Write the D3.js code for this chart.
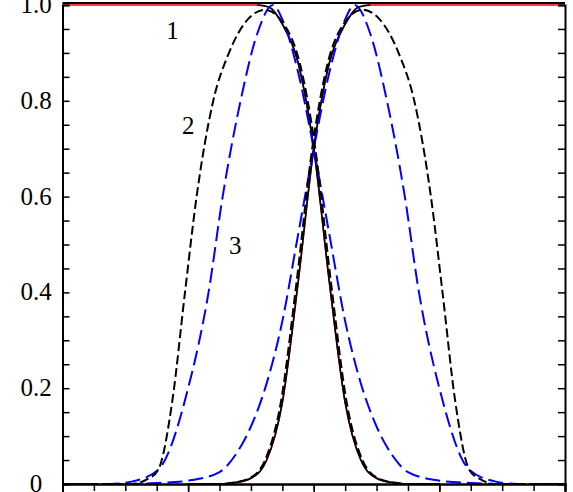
<!DOCTYPE html>
<html>
<head>
<meta charset="utf-8">
<script src="https://cdn.jsdelivr.net/npm/d3@7"></script>
<style>
  body { margin: 0; background: #fff; }
  text { font-family: "Liberation Serif", serif; }
</style>
</head>
<body>
<svg id="chart" width="573" height="492"></svg>
<script>
"use strict"

// descending halves of each curve (x, y); the other bump is the mirror x -> 16 - x
const solidX = [6.2, 6.6, 7.0, 7.5, 8.0, 8.5, 9.0, 9.5, 10.0, 10.5, 11.0, 12.0]
const solidY = [1.0, 0.995, 0.96, 0.88, 0.70, 0.42, 0.17, 0.05, 0.012, 0.003, 0.0, 0.0]

const dashRiseX = [0.0, 2.2, 2.7, 3.05, 3.5, 3.9, 4.27, 4.8, 5.3, 5.9, 6.45]
const dashRiseY = [0.0, 0.0, 0.01, 0.03, 0.175, 0.4, 0.6, 0.8, 0.9, 0.97, 0.99]

const blueRiseX = [0.0, 1.5, 2.2, 3.05, 4.0, 4.65, 5.1, 5.67, 6.2, 6.7]
const blueRiseY = [0.0, 0.0, 0.005, 0.03, 0.2, 0.4, 0.6, 0.8, 0.94, 1.0]
const blueFallX = [7.0, 7.5, 8.0, 8.5, 9.0, 9.5, 10.0, 10.5, 11.0, 12.0, 13.0, 14.0, 16.0]
const blueFallY = [0.97, 0.86, 0.70, 0.52, 0.34, 0.21, 0.12, 0.06, 0.025, 0.007, 0.002, 0.0, 0.0]

const yTicks = [0, 0.2, 0.4, 0.6, 0.8, 1.0]
const yTickLabels = ["0", "0.2", "0.4", "0.6", "0.8", "1.0"]
const curveLabels = ["1", "2", "3"]
const labelPos = [[3.5, 0.93], [4.0, 0.73], [5.5, 0.48]]

const svg = d3.select("#chart")
const x = d3.scaleLinear().domain([0, 16]).range([62.5, 565])
const y = d3.scaleLinear().domain([0, 1]).range([484, 5])

const zip = (xs, ys) => xs.map((v, i) => [v, ys[i]])
const mirror = pts => pts.map(([a, b]) => [16 - a, b]).reverse()

const solidA = zip(solidX, solidY)
const solidB = mirror(solidA)
const redA = [[0, 1]].concat(solidA)
const redB = mirror(redA)
const dashA = zip(dashRiseX, dashRiseY).concat(solidA.slice(2).map(([a, b]) => [a + 0.05, b]))
const dashB = mirror(dashA)
const blueA = zip(blueRiseX, blueRiseY).concat(zip(blueFallX, blueFallY))
const blueB = mirror(blueA)

const line = d3.line()
    .x(d => x(d[0]))
    .y(d => y(d[1]))
    .curve(d3.curveMonotoneX)

const draw = (pts, color, dash) => svg.append("path")
    .attr("d", line(pts))
    .attr("fill", "none")
    .attr("stroke", color)
    .attr("stroke-width", 2)
    .attr("stroke-dasharray", dash)

draw(redA, "#f00", null).attr("stroke-width", 1.6)
draw(redB, "#f00", null).attr("stroke-width", 1.6)
draw(solidA, "#000", null).attr("stroke-width", 1.6)
draw(solidB, "#000", null).attr("stroke-width", 1.6)
draw(blueA, "#00f", "15,6")
draw(blueB, "#00f", "15,6")
draw(dashA, "#000", "9,4")
draw(dashB, "#000", "9,4")

// axes: left/right with minor ticks, bottom/top frame
const yMinor = d3.range(0, 1.0001, 0.05)
const xTicks = d3.range(0, 16.001, 1)
svg.append("g").attr("transform", `translate(${x(0)},0)`)
    .call(d3.axisLeft(y).tickValues(yMinor).tickSize(-7).tickFormat(""))
svg.append("g").attr("transform", `translate(${x(16)},0)`)
    .call(d3.axisRight(y).tickValues(yMinor).tickSize(-7).tickFormat(""))
svg.append("g").attr("transform", `translate(0,${y(0)})`)
    .call(d3.axisBottom(x).tickValues(xTicks).tickSize(7).tickFormat(""))
svg.append("g").attr("transform", `translate(0,${y(0)})`)
    .call(d3.axisBottom(x).tickValues(xTicks.filter(d => d % 4 === 0)).tickSize(10).tickFormat(""))
svg.append("line")
    .attr("x1", x(0)).attr("x2", x(16))
    .attr("y1", y(1) - 2).attr("y2", y(1) - 2)
    .attr("stroke", "#000").attr("stroke-width", 2)
svg.selectAll(".domain").attr("stroke-width", 2)
svg.selectAll(".tick line").attr("stroke-width", 1.5)

svg.selectAll(".ylab").data(yTicks).join("text")
    .attr("x", 36)
    .attr("y", d => y(d) + 8)
    .attr("text-anchor", "middle")
    .attr("font-size", 25)
    .text((d, i) => yTickLabels[i])

svg.selectAll(".clab").data(curveLabels).join("text")
    .attr("x", (d, i) => x(labelPos[i][0]))
    .attr("y", (d, i) => y(labelPos[i][1]))
    .attr("text-anchor", "middle")
    .attr("font-size", 25)
    .text(d => d)
</script>
</body>
</html>
